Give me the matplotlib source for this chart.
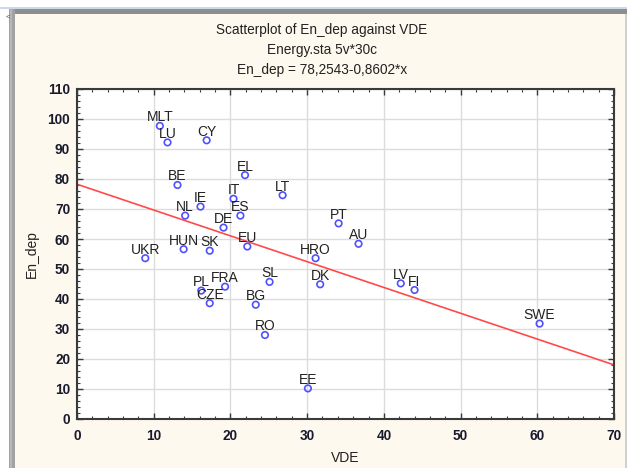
import matplotlib
matplotlib.use("Agg")
import matplotlib.pyplot as plt
from matplotlib.patches import Rectangle
from matplotlib.ticker import MultipleLocator
import numpy as np

FONT = ['Liberation Sans', 'DejaVu Sans']
plt.rcParams['font.family'] = FONT

# ---- data ----
countries = ["MLT", "LU", "CY", "EL", "BE", "LT", "IT", "IE", "ES", "NL",
             "DE", "EU", "HUN", "SK", "UKR", "HRO", "PT", "AU", "SL", "DK",
             "FRA", "PL", "CZE", "BG", "RO", "EE", "LV", "FI", "SWE"]
vde = [10.8, 11.8, 16.9, 21.9, 13.1, 26.8, 20.4, 16.1, 21.3, 14.1,
       19.1, 22.2, 13.9, 17.3, 8.9, 31.1, 34.1, 36.7, 25.1, 31.7,
       19.3, 16.2, 17.3, 23.3, 24.5, 30.1, 42.2, 44.0, 60.3]
en_dep = [97.7, 92.2, 92.9, 81.3, 78.0, 74.6, 73.4, 70.8, 67.8, 67.8,
          63.8, 57.5, 56.6, 56.1, 53.6, 53.6, 65.2, 58.4, 45.7, 44.9,
          44.1, 42.8, 38.6, 38.1, 28.0, 10.2, 45.2, 43.0, 31.8]
intercept = 78.2543
slope = -0.8602
x_ticks = [0, 10, 20, 30, 40, 50, 60, 70]
y_ticks = [0, 10, 20, 30, 40, 50, 60, 70, 80, 90, 100, 110]
title_lines = ["Scatterplot of En_dep against VDE",
               "Energy.sta 5v*30c",
               "En_dep = 78,2543-0,8602*x"]

W, H = 627, 468
fig = plt.figure(figsize=(W / 100, H / 100), dpi=100)
fig.patch.set_facecolor("white")

def px_rect(x0, y0, x1, y1, color, z=-10):
    fig.patches.append(Rectangle((x0 / W, 1 - y1 / H), (x1 - x0) / W, (y1 - y0) / H,
                                 transform=fig.transFigure, facecolor=color,
                                 edgecolor="none", zorder=z))

# window frame
px_rect(0, 7, W, 9, "#c9d9ee")
px_rect(9, 9, W, 14, "#8e8e8e")
px_rect(9, 9, 15, H, "#a2a2a2")
px_rect(10, 9, 12, H, "#b8b8b8")
px_rect(15, 14, W, H, "#fef9ee")
px_rect(625, 14, W, H, "#d0d0d0")
fig.text(8 / W, 1 - 17 / H, "<", fontsize=6, color="#555555", ha="center", va="center")

ax = fig.add_axes([77 / W, 1 - 419 / H, (614 - 77) / W, (419 - 89) / H])
ax.set_zorder(5)
ax.set_facecolor("white")
ax.set_xlim(0, 70)
ax.set_ylim(0, 110)
ax.set_xticks(x_ticks)
ax.set_yticks(y_ticks)
ax.xaxis.set_minor_locator(MultipleLocator(2))
ax.yaxis.set_minor_locator(MultipleLocator(2))
ax.grid(True, which="major", color="#dcdcdc", linewidth=1.0, zorder=0)
ax.set_axisbelow(True)
for s in ax.spines.values():
    s.set_color("#3a3a3a")
    s.set_linewidth(1.5)
ax.tick_params(which="both", direction="in", top=True, right=True, color="#3a3a3a")
ax.tick_params(which="major", length=4, width=1.0)
ax.tick_params(which="minor", length=2.5, width=0.8)
ax.tick_params(axis="x", which="major", pad=7)
ax.tick_params(axis="y", which="major", pad=5)
for lab in ax.get_xticklabels() + ax.get_yticklabels():
    lab.set_fontsize(9.8)
    lab.set_fontweight("bold")
    lab.set_color("#1a1a2e")

# regression line
xs = np.array([0, 70])
ax.plot(xs, intercept + slope * xs, color="#ff4a4a", linewidth=1.2, zorder=2)

# points
ax.scatter(vde, en_dep, s=22, facecolors="none", edgecolors="#5050ff",
           linewidths=1.2, zorder=3)
for c, x, y in zip(countries, vde, en_dep):
    ax.annotate(c, (x, y), xytext=(0, 4.5), textcoords="offset pixels",
                ha="center", va="baseline", fontsize=10, color="#222222", zorder=4)

ax.set_xlabel("VDE", fontsize=10, color="#222222", labelpad=6)
ax.set_ylabel("En_dep", fontsize=10, color="#222222", labelpad=6)

for i, t in enumerate(title_lines):
    fig.text(322 / W, 1 - (30 + 20 * i) / H, t, ha="center", va="center",
             fontsize=9.8, color="#222222")

fig.savefig("out.png", dpi=100, facecolor=fig.get_facecolor())
